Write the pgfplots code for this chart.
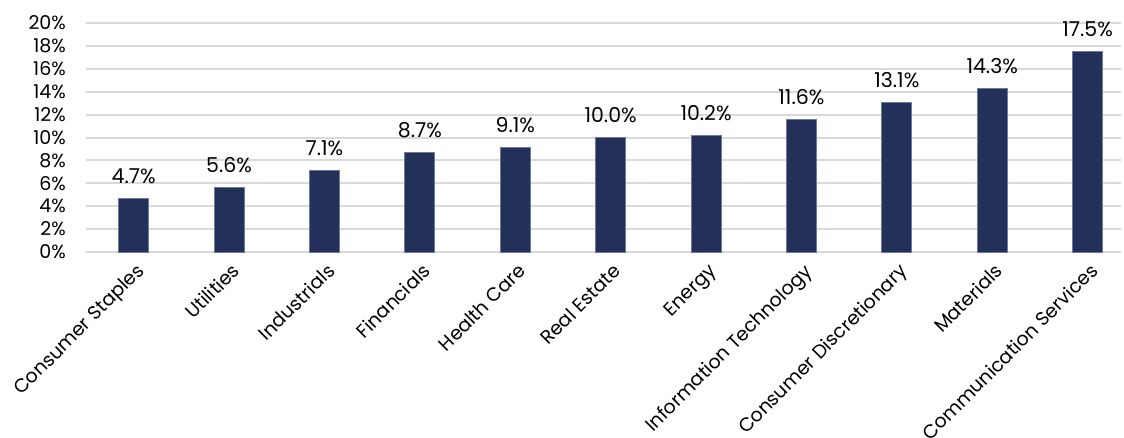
\documentclass[border=0pt]{standalone}
\usepackage{pgfplots}
\pgfplotsset{compat=1.18}
\usepackage{fontspec}
\setmainfont{Poppins}
\definecolor{barnavy}{HTML}{22305A}
\definecolor{baredge}{HTML}{6E7A99}
\definecolor{gridgray}{HTML}{D9D9D9}
\begin{document}
\begin{tikzpicture}
\begin{axis}[
  name=ax,
  at={(0,0)}, anchor=south west,
  scale only axis,
  width=1035pt, height=229pt,
  xmin=-0.5, xmax=10.35,
  ymin=0, ymax=20,
  ytick={0,2,...,20},
  xtick={0,...,10},
  xticklabels={Consumer Staples,Utilities,Industrials,Financials,Health Care,Real Estate,Energy,Information Technology,Consumer Discretionary,Materials,Communication Services},
  x tick label style={rotate=45, anchor=north east, font=\fontsize{19}{21}\selectfont, inner sep=0pt, xshift=-6pt, yshift=-8pt},
  y tick label style={font=\fontsize{19}{21}\selectfont, inner sep=0pt, xshift=-20pt},
  yticklabel={\pgfmathprintnumber[fixed,precision=0]{\tick}\%},
  /pgf/number format/assume math mode=true,
  axis line style={draw=none},
  major tick length=0pt,
  ymajorgrids,
  grid style={draw=gridgray, line width=2pt},
  axis on top=false,
  clip=false,
  nodes near coords={\pgfmathprintnumber[fixed,fixed zerofill,precision=1]{\pgfplotspointmeta}\%},
  nodes near coords style={font=\fontsize{20.5}{22}\selectfont, anchor=south, yshift=11pt, text=black},
]
\addplot[ybar, bar width=30pt, fill=barnavy, draw=baredge, line width=0.8pt] coordinates {
(0,4.7) (1,5.6) (2,7.1) (3,8.7) (4,9.1) (5,10.0) (6,10.2) (7,11.6) (8,13.1) (9,14.3) (10,17.5)
};
\end{axis}
\pgfresetboundingbox
\path[use as bounding box] ([shift={(-86pt,-185pt)}]ax.south west) rectangle ([shift={(1038pt,23pt)}]ax.north west);
\end{tikzpicture}
\end{document}
